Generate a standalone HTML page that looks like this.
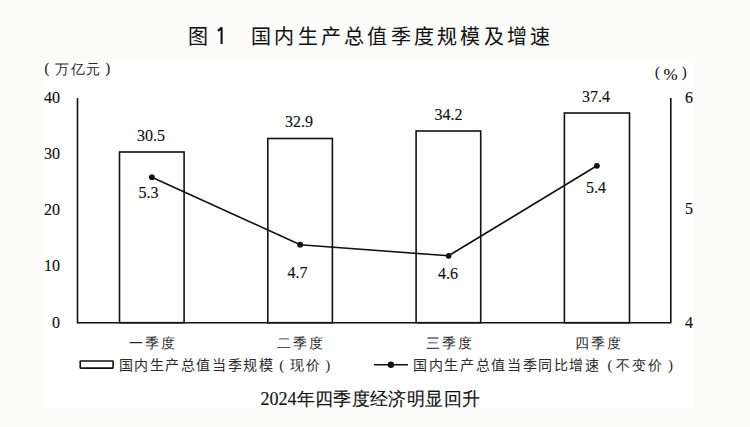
<!DOCTYPE html>
<html>
<head>
<meta charset="utf-8">
<style>
html,body{margin:0;padding:0;}
body{width:750px;height:427px;background:#fcfcfa;position:relative;overflow:hidden;font-family:"Liberation Serif",serif;color:#111;}
#box{position:absolute;left:44px;top:62px;width:648.5px;height:345.5px;background:#fff;}
svg{position:absolute;left:0;top:0;}
.t{position:absolute;white-space:nowrap;line-height:1;text-spacing-trim:space-all;}
.num{font-size:16px;-webkit-text-stroke:0.15px #111;}
.cj{font-size:14px;color:#2a2a2a;}
.p{display:inline-block;width:15.5px;text-align:center;font-family:"Liberation Serif",serif;font-size:15px;letter-spacing:0;position:relative;}
.po{left:1.5px;}
.pc{left:-0.5px;}
.tt{font-family:"Liberation Sans",sans-serif;font-weight:500;font-size:20px;letter-spacing:3.25px;color:#111;-webkit-text-stroke:0.05px #111;}
</style>
</head>
<body>
<div id="box"></div>
<svg width="750" height="427" viewBox="0 0 750 427">
<g fill="none" stroke="#111" stroke-width="1.6">
<rect x="119.5" y="152" width="64.6" height="170.7"/>
<rect x="267.8" y="138.5" width="64.6" height="184.2"/>
<rect x="416.1" y="131" width="64.6" height="191.7"/>
<rect x="564.4" y="113" width="65.1" height="209.7"/>
<path d="M77.5 98V322.7H670.8V98"/>
<path d="M151.9 177.2L300.2 244.7L448.6 255.8L596.9 165.8"/>
<rect x="80.2" y="361" width="32.9" height="7.1" rx="0.6"/>
<path d="M373.9 364.7H408"/>
<path d="M217.9 30.8Q220.3 29.6 221.6 27.2M221.6 27.2V43.9" stroke-width="2.1"/>
</g>
<g fill="#111">
<circle cx="151.9" cy="177.2" r="2.9"/>
<circle cx="300.2" cy="244.7" r="2.9"/>
<circle cx="448.6" cy="255.8" r="2.9"/>
<circle cx="596.9" cy="165.8" r="2.9"/>
<circle cx="390.9" cy="364.7" r="3.2"/>
</g>
</svg>
<div lang="zh-CN" class="t tt" id="title1" style="left:187.5px;top:27px;">图</div>
<div lang="zh-CN" class="t tt" id="title3" style="left:251px;top:27px;">国内生产总值季度规模及增速</div>
<div class="t num" id="unit1a" style="left:44.5px;top:62px;font-size:14px;">(</div>
<div class="t cj" id="unit1" style="left:55px;top:63px;letter-spacing:1.5px;">万亿元</div>
<div class="t num" id="unit1b" style="left:105.5px;top:62px;font-size:14px;">)</div>
<div class="t num" id="unit2a" style="left:655px;top:66.3px;font-size:14px;">(</div>
<div class="t num" id="unit2" style="left:663.5px;top:65.5px;font-size:17px;-webkit-text-stroke:0.1px #111;">%</div>
<div class="t num" id="unit2b" style="left:682px;top:66.3px;font-size:14px;">)</div>
<div class="t num" id="y40" style="left:44px;top:90px;">40</div>
<div class="t num" id="y30" style="left:44px;top:146px;">30</div>
<div class="t num" id="y20" style="left:44px;top:202px;">20</div>
<div class="t num" id="y10" style="left:44px;top:258px;">10</div>
<div class="t num" id="y0" style="left:52px;top:315px;">0</div>
<div class="t num" id="r6" style="left:685px;top:90px;">6</div>
<div class="t num" id="r5" style="left:685px;top:201px;">5</div>
<div class="t num" id="r4" style="left:685px;top:315px;">4</div>
<div class="t num" id="b1" style="left:137px;top:128px;">30.5</div>
<div class="t num" id="b2" style="left:285px;top:114px;">32.9</div>
<div class="t num" id="b3" style="left:434.5px;top:107px;">34.2</div>
<div class="t num" id="b4" style="left:582px;top:89px;">37.4</div>
<div class="t num" id="l1" style="left:138.5px;top:185px;">5.3</div>
<div class="t num" id="l2" style="left:287.5px;top:265px;">4.7</div>
<div class="t num" id="l3" style="left:438px;top:266px;">4.6</div>
<div class="t num" id="l4" style="left:586px;top:180px;">5.4</div>
<div class="t cj" id="c1" style="left:129px;top:337px;letter-spacing:2px;">一季度</div>
<div class="t cj" id="c2" style="left:277px;top:337px;letter-spacing:2px;">二季度</div>
<div class="t cj" id="c3" style="left:426px;top:337px;letter-spacing:2px;">三季度</div>
<div class="t cj" id="c4" style="left:575px;top:337px;letter-spacing:2px;">四季度</div>
<div class="t cj" id="leg1" style="left:118.5px;top:357.5px;letter-spacing:1.6px;">国内生产总值当季规模<span class="p po" style="left:-0.4px">(</span>现价<span class="p pc" style="left:-1.2px">)</span></div>
<div class="t cj" id="leg2" style="left:413px;top:357.5px;letter-spacing:1.65px;">国内生产总值当季同比增速<span class="p po">(</span>不变价<span class="p pc">)</span></div>
<div class="t" id="cap" style="left:260.5px;top:390px;font-size:18px;letter-spacing:0.4px;-webkit-text-stroke:0.15px #111;"><span style="letter-spacing:0;">2024</span>年四季度经济明显回升</div>
</body>
</html>
